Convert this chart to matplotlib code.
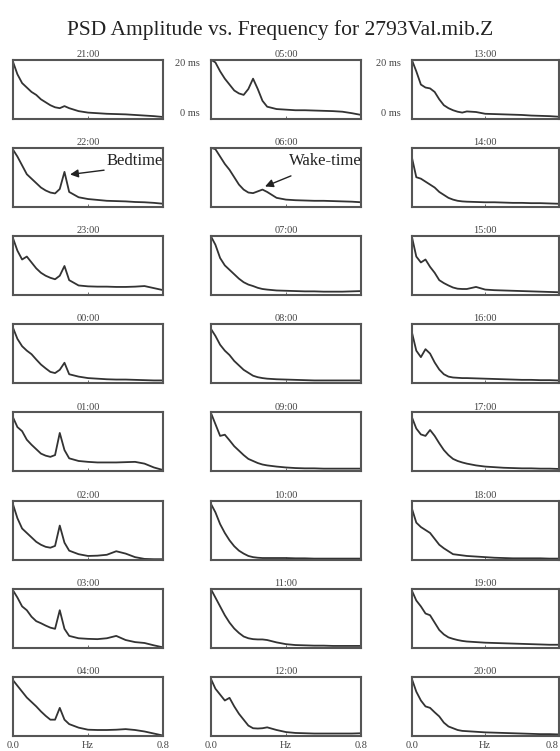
# PSD amplitude vs frequency, 24 hourly panels
import matplotlib
matplotlib.use("Agg")
import matplotlib.pyplot as plt

# common frequency axis (Hz)
freq = [0.0, 0.025, 0.05, 0.075, 0.1, 0.125, 0.15, 0.175, 0.2, 0.225, 0.25, 0.275,
        0.3, 0.35, 0.4, 0.45, 0.5, 0.55, 0.6, 0.65, 0.7, 0.75, 0.8]

# hour labels, one list per column
col1_hours = ["21:00", "22:00", "23:00", "00:00", "01:00", "02:00", "03:00", "04:00"]
col2_hours = ["05:00", "06:00", "07:00", "08:00", "09:00", "10:00", "11:00", "12:00"]
col3_hours = ["13:00", "14:00", "15:00", "16:00", "17:00", "18:00", "19:00", "20:00"]

# amplitude in ms
h21 = [19.5, 15, 12, 10.5, 9, 8, 6.5, 5.5, 4.5, 3.8, 3.5, 4.2, 3.5, 2.5, 2.0, 1.8, 1.6, 1.5, 1.4, 1.2, 1.0, 0.8, 0.5]
h22 = [19.5, 17, 14, 11, 9.5, 8, 6.5, 5.5, 4.8, 4.5, 6, 11.8, 5, 3.2, 2.6, 2.3, 2.0, 1.9, 1.8, 1.6, 1.5, 1.3, 1.0]
h23 = [19.5, 15, 12, 13, 11, 9, 7.5, 6.5, 5.8, 5.3, 6.5, 9.8, 5, 3.2, 2.9, 2.8, 2.8, 2.7, 2.7, 2.8, 3.0, 2.3, 1.6]
h00 = [19, 15, 12.5, 11, 9.8, 8, 6.3, 5, 3.8, 3.4, 4.5, 6.9, 3.0, 2.2, 1.7, 1.5, 1.3, 1.2, 1.2, 1.1, 1.0, 0.9, 0.9]
h01 = [18.5, 15, 13.6, 10.7, 9, 7.5, 6, 5.3, 4.9, 5.5, 13, 7.2, 4.4, 3.5, 3.2, 3.0, 3.0, 3.0, 3.1, 3.2, 2.6, 1.3, 0.4]
h02 = [19, 14, 10.5, 9, 7.5, 6, 5, 4.3, 4.0, 4.6, 11.5, 5.7, 3.0, 1.8, 1.2, 1.3, 1.6, 2.8, 2.0, 0.8, 0.2, 0.1, 0.1]
h03 = [19.6, 17, 14, 12.7, 10.5, 9, 8.3, 7.5, 6.8, 6.4, 12.7, 6.4, 4.0, 3.2, 3.0, 2.9, 3.2, 4.0, 2.6, 1.9, 1.6, 0.8, 0.1]
h04 = [19, 17, 15, 13, 11.5, 10, 8.3, 6.8, 5.5, 5.5, 9.5, 5.5, 4, 2.8, 2.1, 2.0, 2.0, 2.1, 2.3, 2.0, 1.5, 0.8, 0.1]

h05 = [20, 19, 16, 13.5, 11.5, 9.5, 8.5, 8, 10, 13.5, 10, 6, 4, 3.2, 3, 2.8, 2.8, 2.7, 2.6, 2.5, 2.3, 1.8, 1.2]
h06 = [20, 19.5, 17, 14.5, 12.5, 10, 7.5, 5.8, 4.8, 4.6, 5.2, 5.8, 5.0, 3.0, 2.4, 2.2, 2.1, 2.0, 2.0, 1.9, 1.8, 1.7, 1.5]
h07 = [20, 17, 12.5, 10, 8.5, 7, 5.5, 4.3, 3.5, 3.0, 2.4, 2.0, 1.8, 1.5, 1.4, 1.3, 1.2, 1.2, 1.1, 1.1, 1.1, 1.2, 1.3]
h08 = [18.5, 16, 13, 11, 9.5, 7.5, 6, 4.5, 3.5, 2.5, 2.0, 1.7, 1.5, 1.3, 1.2, 1.1, 1.0, 0.9, 0.9, 0.9, 0.9, 0.9, 0.9]
h09 = [20, 16, 12, 12.4, 10.5, 8.5, 7, 5.5, 4.2, 3.5, 2.8, 2.3, 2.0, 1.6, 1.3, 1.1, 1.0, 1.0, 0.9, 0.9, 0.9, 0.9, 0.9]
h10 = [19, 16, 12, 9, 6.5, 4.5, 3, 2, 1.2, 0.8, 0.6, 0.5, 0.5, 0.5, 0.5, 0.4, 0.4, 0.3, 0.3, 0.3, 0.3, 0.3, 0.3]
h11 = [20, 17, 14, 11, 8.5, 6.5, 5, 3.8, 3.2, 2.9, 2.8, 2.8, 2.6, 1.8, 1.2, 0.9, 0.8, 0.7, 0.7, 0.6, 0.6, 0.6, 0.6]
h12 = [19.5, 16, 14, 12, 12.9, 10, 7.5, 5.5, 3.5, 2.6, 2.5, 2.6, 2.9, 2.0, 1.3, 1.0, 0.9, 0.8, 0.8, 0.8, 0.8, 0.8, 0.9]

h13 = [20, 16, 11.5, 10.5, 10.2, 9, 6.5, 4.5, 3.5, 2.8, 2.3, 2.0, 2.4, 2.2, 1.6, 1.5, 1.4, 1.3, 1.2, 1.0, 0.9, 0.8, 0.6]
h14 = [17, 10, 9.5, 8.5, 7.5, 6.5, 5, 4, 3, 2.4, 2.0, 1.8, 1.7, 1.6, 1.5, 1.5, 1.4, 1.3, 1.3, 1.2, 1.2, 1.1, 1.0]
h15 = [20, 13, 11, 12, 9.5, 7.5, 5, 4.0, 3.2, 2.5, 2.1, 2.0, 2.0, 2.7, 1.8, 1.6, 1.5, 1.4, 1.3, 1.2, 1.1, 1.0, 0.9]
h16 = [17.5, 11, 8.8, 11.5, 10, 7, 4.6, 3, 2.2, 1.9, 1.8, 1.7, 1.7, 1.6, 1.5, 1.4, 1.3, 1.2, 1.1, 1.1, 1.0, 1.0, 0.9]
h17 = [18.5, 14.5, 12.5, 12, 14, 12, 9.5, 7.2, 5.5, 4.2, 3.5, 3.0, 2.6, 2.0, 1.6, 1.4, 1.2, 1.1, 1.0, 1.0, 0.9, 0.9, 0.8]
h18 = [17.5, 12.5, 11, 10, 9, 7, 5, 3.8, 2.8, 1.8, 1.6, 1.4, 1.2, 1.0, 0.8, 0.6, 0.5, 0.4, 0.4, 0.4, 0.4, 0.3, 0.3]
h19 = [19.5, 16, 14, 11.6, 11, 8.5, 6, 4.5, 3.5, 3.0, 2.6, 2.3, 2.1, 1.9, 1.7, 1.6, 1.5, 1.4, 1.3, 1.2, 1.1, 1.0, 1.0]
h20 = [19.5, 15, 12, 10, 9.5, 8, 6.6, 4.5, 3.2, 2.6, 2.0, 1.7, 1.6, 1.4, 1.2, 1.1, 1.0, 0.9, 0.8, 0.7, 0.6, 0.6, 0.5]

col1_data = [h21, h22, h23, h00, h01, h02, h03, h04]
col2_data = [h05, h06, h07, h08, h09, h10, h11, h12]
col3_data = [h13, h14, h15, h16, h17, h18, h19, h20]

W, H = 560, 751
fig = plt.figure(figsize=(W / 100, H / 100), dpi=100)
serif = "Liberation Serif"

fig.text(0.5, 1 - 35 / H, "PSD Amplitude vs. Frequency for 2793Val.mib.Z",
         ha="center", va="baseline", fontsize=15.5, family=serif, color="#222222")

col_left = [12.7, 210.7, 411.7]
col_width = [150.6, 150.6, 147]
row_top0, row_step, box_h = 59.5, 88.2, 59

columns = [(col1_hours, col1_data), (col2_hours, col2_data), (col3_hours, col3_data)]
axes = {}
for c, (hours, data) in enumerate(columns):
    for r in range(8):
        top = row_top0 + r * row_step
        ax = fig.add_axes([col_left[c] / W, 1 - (top + box_h) / H, col_width[c] / W, box_h / H])
        ax.plot(freq, data[r], color="#333333", lw=1.3)
        ax.set_xlim(0, 0.8)
        ax.set_ylim(0, 20)
        for s in ax.spines.values():
            s.set_linewidth(1.5)
            s.set_color("#555555")
        ax.set_title(hours[r], fontsize=7.5, family=serif, pad=2, color="#444444")
        ax.set_xticks([0, 0.4, 0.8])
        ax.tick_params(axis="x", direction="in", length=2, width=0.6, colors="#555555")
        if r == 7:
            ax.set_xticklabels(["0.0", "Hz", "0.8"], fontsize=7.5, family=serif, color="#444444")
            if c == 2:
                ax.get_xticklabels()[2].set_ha("right")
        else:
            ax.set_xticklabels([])
        if r == 0 and c > 0:
            ax.set_yticks([0, 20])
            ax.set_yticklabels(["0 ms", "20 ms"], fontsize=7.5, family=serif, color="#444444")
            ax.tick_params(axis="y", length=0, pad=8)
            labs = ax.get_yticklabels()
            labs[0].set_va("bottom")
            labs[1].set_va("top")
        else:
            ax.set_yticks([])
        axes[hours[r]] = ax

# sleep / wake annotations
ax = axes["22:00"]
ax.text(0.8, 15.5, "Bedtime", ha="right", va="center", fontsize=12, family=serif, color="#222222")
ax.annotate("", xy=(0.29, 10.8), xytext=(0.5, 12.5),
            arrowprops=dict(arrowstyle="-|>", color="#222222", lw=1, mutation_scale=12))

ax = axes["06:00"]
ax.text(0.8, 15.5, "Wake-time", ha="right", va="center", fontsize=12, family=serif, color="#222222")
ax.annotate("", xy=(0.275, 6.5), xytext=(0.44, 10.8),
            arrowprops=dict(arrowstyle="-|>", color="#222222", lw=1, mutation_scale=12))

plt.savefig("out.png", dpi=100)
